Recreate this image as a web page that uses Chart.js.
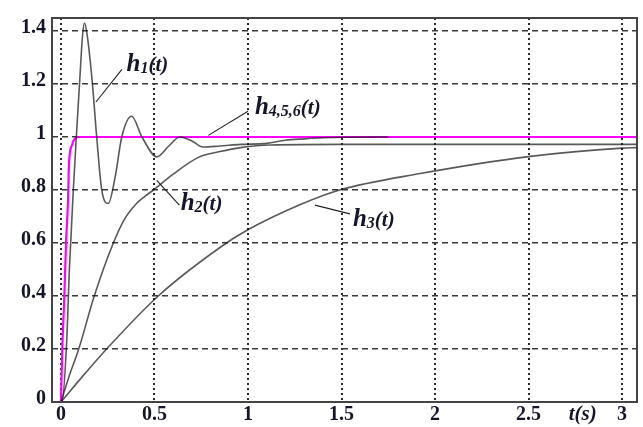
<!DOCTYPE html>
<html>
<head>
<meta charset="utf-8">
<script src="https://cdn.jsdelivr.net/npm/chart.js@4.4.0/dist/chart.umd.min.js"></script>
<style>
  html, body { margin: 0; padding: 0; background: #fff; }
</style>
</head>
<body>
<canvas id="chart" width="643" height="427"></canvas>
<script>
// valores (t en segundos)
const h1T = [0, 0.005, 0.03, 0.045, 0.066, 0.082, 0.1, 0.115, 0.126, 0.141, 0.167, 0.191, 0.218, 0.253, 0.29, 0.325, 0.378, 0.433, 0.513, 0.575, 0.636, 0.7, 0.759, 0.85, 0.96, 1.1, 1.2, 1.3, 1.4, 1.55, 1.75];
const h1V = [0, 0, 0.22, 0.5, 0.8, 1.0, 1.21, 1.38, 1.43, 1.38, 1.21, 1.0, 0.8, 0.749, 0.85, 1.0, 1.078, 1.0, 0.925, 0.965, 1.0, 0.985, 0.962, 0.966, 0.972, 0.976, 0.988, 0.993, 0.997, 0.999, 1.0];

const h2T = [0, 0.04, 0.095, 0.178, 0.28, 0.34, 0.405, 0.45, 0.494, 0.6, 0.74, 0.85, 0.96, 1.12, 1.5, 3.08];
const h2V = [0, 0.09, 0.2, 0.4, 0.6, 0.69, 0.75, 0.777, 0.8, 0.86, 0.925, 0.945, 0.96, 0.97, 0.972, 0.972];

const h3T = [0, 0.128, 0.244, 0.52, 0.85, 0.99, 1.28, 1.49, 1.92, 2.5, 3.0, 3.08];
const h3V = [0, 0.107, 0.2, 0.4, 0.583, 0.646, 0.745, 0.8, 0.862, 0.926, 0.958, 0.96];

const h456T = [0, 0.007, 0.018, 0.027, 0.037, 0.043, 0.059, 0.075, 0.091, 0.2, 3.08];
const h456V = [0, 0.2, 0.4, 0.6, 0.75, 0.9, 0.97, 0.995, 1.0, 1.0, 1.0];

const xTicks = [0, 0.5, 1, 1.5, 2, 2.5, 3];
const yTicks = [0, 0.2, 0.4, 0.6, 0.8, 1, 1.2, 1.4];

// etiquetas de las curvas: posición del texto y de la línea guía (en unidades de datos)
const curveLabels = [
    {parts: [['h', 'main'], ['1', 'sub'], ['(t)', 'par']], at: [0.351, 1.248], from: [0.326, 1.255], to: [0.187, 1.132]},
    {parts: [['h', 'main'], ['4,5,6', 'sub'], ['(t)', 'par']], at: [1.037, 1.088], from: [1.0, 1.097], to: [0.788, 1.006]},
    {parts: [['h', 'main'], ['2', 'sub'], ['(t)', 'par']], at: [0.64, 0.725], from: [0.633, 0.743], to: [0.512, 0.836]},
    {parts: [['h', 'main'], ['3', 'sub'], ['(t)', 'par']], at: [1.561, 0.664], from: [1.545, 0.71], to: [1.358, 0.743]}
];

const textColor = '#16162a';
const curveColor = 'rgba(25,25,25,0.72)';

function toPoints(ts, vs) {
    return ts.map((t, i) => ({x: t, y: vs[i]}));
}

const labelPlugin = {
    id: 'curveLabels',
    afterDatasetsDraw(chart) {
        const {ctx, chartArea, scales: {x, y}} = chart;
        ctx.save();

        // marco del gráfico
        ctx.strokeStyle = '#444';
        ctx.lineWidth = 2;
        ctx.strokeRect(chartArea.left, chartArea.top, chartArea.right - chartArea.left, chartArea.bottom - chartArea.top);

        curveLabels.forEach(lab => {
            ctx.beginPath();
            ctx.moveTo(x.getPixelForValue(lab.from[0]), y.getPixelForValue(lab.from[1]));
            ctx.lineTo(x.getPixelForValue(lab.to[0]), y.getPixelForValue(lab.to[1]));
            ctx.strokeStyle = '#222';
            ctx.lineWidth = 1.1;
            ctx.stroke();

            let px = x.getPixelForValue(lab.at[0]);
            const py = y.getPixelForValue(lab.at[1]);
            ctx.fillStyle = textColor;
            ctx.textBaseline = 'alphabetic';
            ctx.textAlign = 'left';
            lab.parts.forEach(([txt, kind]) => {
                const size = kind === 'sub' ? 16 : (kind === 'main' ? 25 : 21);
                ctx.font = 'italic bold ' + size + 'px "Liberation Serif"';
                ctx.fillText(txt, px, py + (kind === 'sub' ? 2 : 0));
                px += ctx.measureText(txt).width;
            });
        });

        // título del eje x
        ctx.font = 'italic bold 21px "Liberation Serif"';
        ctx.textAlign = 'center';
        ctx.textBaseline = 'middle';
        ctx.fillText('t(s)', x.getPixelForValue(2.79), chartArea.bottom + 13);
        ctx.restore();
    }
};

const tickFont = {family: '"Liberation Serif"', size: 20, weight: 'bold'};

new Chart(document.getElementById('chart'), {
    type: 'line',
    data: {
        datasets: [
            {label: 'h1', data: toPoints(h1T, h1V), borderColor: curveColor, borderWidth: 1.6},
            {label: 'h2', data: toPoints(h2T, h2V), borderColor: curveColor, borderWidth: 1.6},
            {label: 'h3', data: toPoints(h3T, h3V), borderColor: curveColor, borderWidth: 1.6},
            {label: 'h456', data: toPoints(h456T, h456V), borderColor: '#ff00ff', borderWidth: 2.2}
        ]
    },
    options: {
        responsive: false,
        animation: false,
        devicePixelRatio: 1,
        layout: {padding: {top: 12, right: 6, left: 0, bottom: 0}},
        elements: {
            point: {radius: 0},
            line: {cubicInterpolationMode: 'monotone', fill: false}
        },
        plugins: {
            legend: {display: false},
            tooltip: {enabled: false}
        },
        scales: {
            x: {
                type: 'linear',
                min: -0.048,
                max: 3.08,
                afterBuildTicks: axis => { axis.ticks = xTicks.map(v => ({value: v})); },
                afterFit: axis => { axis.height = 25; },
                ticks: {font: tickFont, color: textColor, padding: 1, maxRotation: 0, autoSkip: false,
                    callback: v => String(v)},
                grid: {color: '#2a2a2a', lineWidth: 2, drawTicks: false},
                border: {display: false, dash: [2, 3]}
            },
            y: {
                min: 0,
                max: 1.449,
                afterBuildTicks: axis => { axis.ticks = yTicks.map(v => ({value: v})); },
                afterFit: axis => { axis.width = 52; },
                ticks: {font: tickFont, color: textColor, padding: 6, labelOffset: -3,
                    callback: v => String(v)},
                grid: {color: '#3a3a3a', lineWidth: 1.5, drawTicks: false},
                border: {display: false, dash: [6, 4]}
            }
        }
    },
    plugins: [labelPlugin]
});
</script>
</body>
</html>
